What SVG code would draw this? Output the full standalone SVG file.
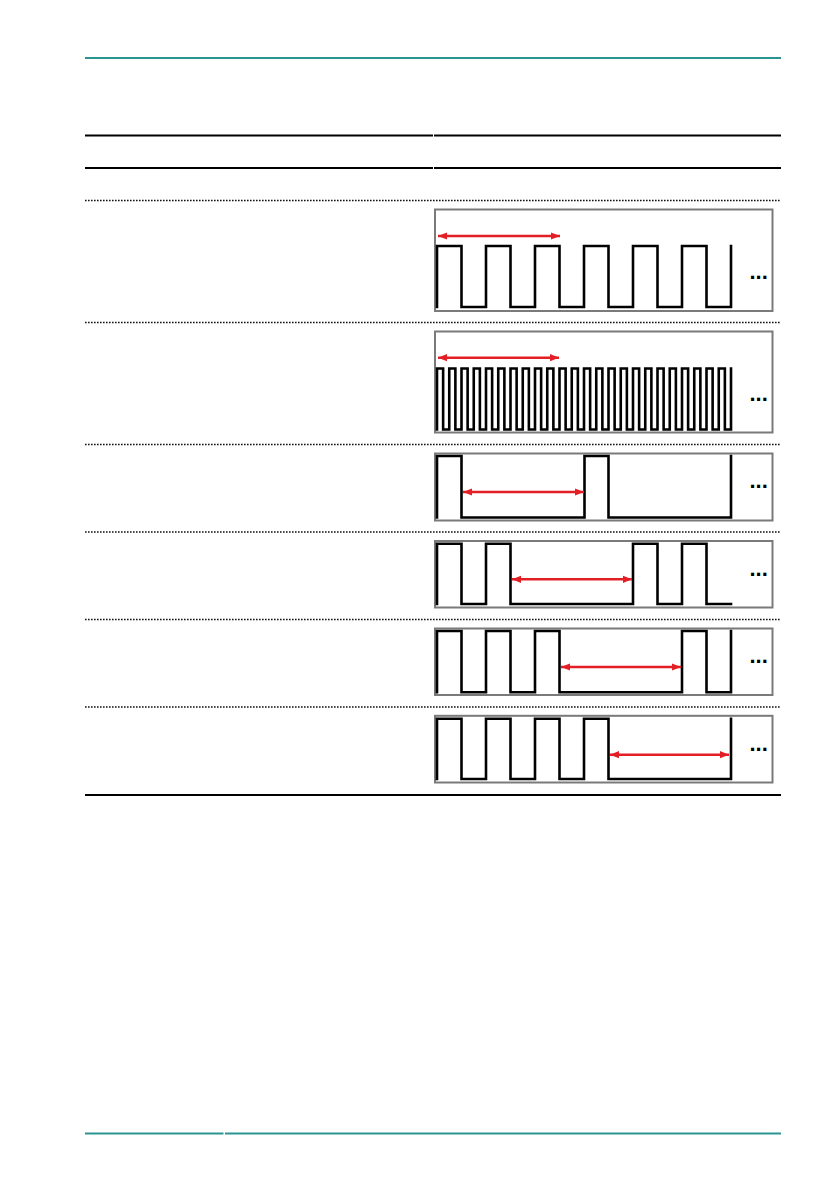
<svg xmlns="http://www.w3.org/2000/svg" width="839" height="1191" viewBox="0 0 839 1191">
<style>
.teal{stroke:#2a9590;stroke-width:2;fill:none}
.rule{stroke:#000;stroke-width:2;fill:none}
.dot{stroke:#111;stroke-width:1.6;stroke-dasharray:1.6 1.4;fill:none}
.box{fill:#fff;stroke:#7a7a7a;stroke-width:2}
.wave{fill:none;stroke:#000;stroke-width:2.6;stroke-linejoin:miter;stroke-linecap:square}
.arr{stroke:#e31e24;stroke-width:2.5;fill:none;marker-start:url(#ah);marker-end:url(#ah)}
.more{font-family:"Liberation Sans",Arial,sans-serif;font-weight:bold;font-size:22px;fill:#000}
</style>
<defs>
<marker id="ah" viewBox="0 0 10 8" refX="10" refY="4" markerWidth="9" markerHeight="8" markerUnits="userSpaceOnUse" orient="auto-start-reverse">
<path d="M0,0 L10,4 L0,8 Z" fill="#e31e24"/>
</marker>
</defs>
<rect width="839" height="1191" fill="#fff"/>
<g id="page-lines">
<line class="teal" x1="85" y1="58" x2="781" y2="58"/>
<line class="rule" x1="85" y1="135.5" x2="433" y2="135.5"/>
<line class="rule" x1="434" y1="135.5" x2="781" y2="135.5"/>
<line class="rule" x1="85" y1="168" x2="433" y2="168"/>
<line class="rule" x1="434" y1="168" x2="781" y2="168"/>
<line class="dot" x1="85" y1="200.5" x2="781" y2="200.5"/>
<line class="dot" x1="85" y1="322.5" x2="781" y2="322.5"/>
<line class="dot" x1="85" y1="444.5" x2="781" y2="444.5"/>
<line class="dot" x1="85" y1="532" x2="781" y2="532"/>
<line class="dot" x1="85" y1="619.5" x2="781" y2="619.5"/>
<line class="dot" x1="85" y1="707" x2="781" y2="707"/>
<line class="rule" x1="85" y1="795" x2="781" y2="795"/>
<line class="teal" x1="85" y1="1133.5" x2="223.5" y2="1133.5"/>
<line class="teal" x1="225" y1="1133.5" x2="781" y2="1133.5"/>
</g>
<g id="row1">
<rect class="box" x="435" y="209.5" width="337.5" height="101.5"/>
<path class="wave" d="M437,307 V246 H461.5 V307 H486 V246 H510.5 V307 H535 V246 H559.5 V307 H584 V246 H608.5 V307 H633 V246 H657.5 V307 H682 V246 H706.5 V307 H731 V246"/>
<text class="more" x="749.5" y="278.5">...</text>
</g>
<g id="row2">
<rect class="box" x="435" y="331.5" width="337.5" height="101"/>
<path class="wave" stroke-width="2.1" d="M437,429.5 V368.5 H443.125 V429.5 H449.25 V368.5 H455.375 V429.5 H461.5 V368.5 H467.625 V429.5 H473.75 V368.5 H479.875 V429.5 H486 V368.5 H492.125 V429.5 H498.25 V368.5 H504.375 V429.5 H510.5 V368.5 H516.625 V429.5 H522.75 V368.5 H528.875 V429.5 H535 V368.5 H541.125 V429.5 H547.25 V368.5 H553.375 V429.5 H559.5 V368.5 H565.625 V429.5 H571.75 V368.5 H577.875 V429.5 H584 V368.5 H590.125 V429.5 H596.25 V368.5 H602.375 V429.5 H608.5 V368.5 H614.625 V429.5 H620.75 V368.5 H626.875 V429.5 H633 V368.5 H639.125 V429.5 H645.25 V368.5 H651.375 V429.5 H657.5 V368.5 H663.625 V429.5 H669.75 V368.5 H675.875 V429.5 H682 V368.5 H688.125 V429.5 H694.25 V368.5 H700.375 V429.5 H706.5 V368.5 H712.625 V429.5 H718.75 V368.5 H724.875 V429.5 H731 V368.5"/>
<text class="more" x="749.5" y="400.8">...</text>
</g>
<g id="row3">
<rect class="box" x="435" y="453.5" width="337.5" height="67"/>
<path class="wave" d="M437,517.5 V456 H461.5 V517.5 H584.5 V456 H608.5 V517.5 H731 V456"/>
<text class="more" x="749.5" y="487.5">...</text>
</g>
<g id="row4">
<rect class="box" x="435" y="541" width="337.5" height="66.5"/>
<path class="wave" d="M437,604 V543.7 H461.5 V604 H486 V543.7 H510.5 V604 H633 V543.7 H657.5 V604 H682 V543.7 H706.5 V604 H731"/>
<text class="more" x="749.5" y="576.2">...</text>
</g>
<g id="row5">
<rect class="box" x="435" y="628.5" width="337.5" height="66.5"/>
<path class="wave" d="M437,692.3 V631 H461.5 V692.3 H486 V631 H510.5 V692.3 H535 V631 H559.5 V692.3 H682 V631 H706.5 V692.3 H731 V631"/>
<text class="more" x="749.5" y="662.5">...</text>
</g>
<g id="row6">
<rect class="box" x="435" y="715.8" width="337.5" height="66.7"/>
<path class="wave" d="M437,779 V718.7 H461.5 V779 H486 V718.7 H510.5 V779 H535 V718.7 H559.5 V779 H584 V718.7 H608.5 V779 H731 V718.7"/>
<text class="more" x="749.5" y="751.2">...</text>
</g>
<g id="connectors">
<line class="arr" x1="438" y1="236" x2="560" y2="236"/>
<line class="arr" x1="438" y1="357.7" x2="559" y2="357.7"/>
<line class="arr" x1="463" y1="492" x2="584" y2="492"/>
<line class="arr" x1="512" y1="579.3" x2="632" y2="579.3"/>
<line class="arr" x1="561" y1="667" x2="681" y2="667"/>
<line class="arr" x1="610" y1="754.7" x2="729" y2="754.7"/>
</g>
</svg>
